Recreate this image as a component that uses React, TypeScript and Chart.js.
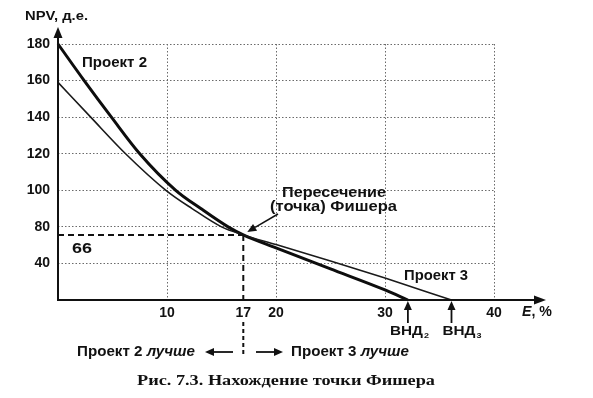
import React, { useEffect, useRef } from "react";
import { Chart, registerables } from "chart.js";

Chart.register(...registerables);

// ---- data ----
const eProject2 = [0, 2.4, 4.9, 7.5, 10.8, 13.1, 15.6, 17, 20, 25, 30, 32.1];
const npvProject2 = [180, 160, 140, 120, 100, 90, 80, 75.6, 68.5, 57, 45.5, 40];
const eProject3 = [0, 3.0, 6.2, 9.9, 12.3, 15.0, 17, 20, 25, 30, 36.1];
const npvProject3 = [159, 140, 120, 100, 90, 80, 75.6, 70.3, 61.3, 52, 40];

const xTickValues = [10, 17, 20, 30, 40];
const xTickLabels = ["10", "17", "20", "30", "40"];
const yTickValues = [60, 80, 100, 120, 140, 160, 180];
const yTickLabels = ["40", "80", "100", "120", "140", "160", "180"];

const fisherE = 17;
const fisherNPV = 75.6;
const fisherLabel = "66";
const irrProject2 = 32.1;
const irrProject3 = 36.1;
const yAxisMin = 40;

const SANS = '"Liberation Sans", Arial, sans-serif';
const SERIF = '"Liberation Serif", "Times New Roman", serif';

type Run = [string, string];

function fitRuns(ctx: CanvasRenderingContext2D, runs: Run[], left: number, right: number, cy: number) {
  let total = 0;
  for (const [t, f] of runs) {
    ctx.font = f;
    total += ctx.measureText(t).width;
  }
  const s = (right - left) / total;
  ctx.save();
  ctx.translate(left, cy);
  ctx.scale(s, 1);
  ctx.textAlign = "left";
  ctx.textBaseline = "middle";
  let x = 0;
  for (const [t, f] of runs) {
    ctx.font = f;
    ctx.fillText(t, x, 0);
    x += ctx.measureText(t).width;
  }
  ctx.restore();
}

function arrow(ctx: CanvasRenderingContext2D, x1: number, y1: number, x2: number, y2: number, w: number, headLen: number, headW: number) {
  const ang = Math.atan2(y2 - y1, x2 - x1);
  const bx = x2 - Math.cos(ang) * headLen;
  const by = y2 - Math.sin(ang) * headLen;
  ctx.save();
  ctx.lineWidth = w;
  ctx.setLineDash([]);
  ctx.beginPath();
  ctx.moveTo(x1, y1);
  ctx.lineTo(bx, by);
  ctx.stroke();
  ctx.beginPath();
  ctx.moveTo(x2, y2);
  ctx.lineTo(bx + Math.sin(ang) * headW, by - Math.cos(ang) * headW);
  ctx.lineTo(bx - Math.sin(ang) * headW, by + Math.cos(ang) * headW);
  ctx.closePath();
  ctx.fill();
  ctx.restore();
}

const annotations = {
  id: "annotations",
  afterDraw(chart: any) {
    const ctx: CanvasRenderingContext2D = chart.ctx;
    const xs = chart.scales.x;
    const ys = chart.scales.y;
    const X = (v: number) => xs.getPixelForValue(v);
    const Y = (v: number) => ys.getPixelForValue(v);
    const x0 = X(0);
    const y0 = Y(yAxisMin);
    ctx.save();
    ctx.strokeStyle = "#111";
    ctx.fillStyle = "#111";

    // axes with arrows
    arrow(ctx, x0, y0 + 1, x0, 27, 2, 11, 4.5);
    arrow(ctx, x0 - 1, y0, 546, y0, 2, 12, 4.5);

    // Fisher dashed lines
    const fx = X(fisherE);
    const fy = Y(fisherNPV);
    ctx.lineWidth = 2;
    ctx.setLineDash([6, 4]);
    ctx.beginPath();
    ctx.moveTo(x0, fy);
    ctx.lineTo(fx, fy);
    ctx.moveTo(fx, fy);
    ctx.lineTo(fx, y0);
    ctx.stroke();
    ctx.setLineDash([4, 3]);
    ctx.beginPath();
    ctx.moveTo(fx, 322);
    ctx.lineTo(fx, 356);
    ctx.stroke();
    ctx.setLineDash([]);

    // Fisher pointer
    arrow(ctx, 278, 214, fx + 4, fy - 3, 1.5, 9, 4);

    // IRR arrows
    arrow(ctx, X(irrProject2), 323, X(irrProject2), y0 + 1, 1.8, 9, 4);
    arrow(ctx, X(irrProject3), 323, X(irrProject3), y0 + 1, 1.8, 9, 4);

    // labels
    const b13 = `bold 13px ${SANS}`;
    const b14 = `bold 14px ${SANS}`;
    const bi14 = `italic bold 14px ${SANS}`;
    fitRuns(ctx, [["NPV, д.е.", b13]], 25, 88, 16);
    fitRuns(ctx, [["Проект 2", b14]], 82, 147, 63);
    fitRuns(ctx, [["Пересечение", b14]], 282, 386, 193);
    fitRuns(ctx, [["(точка) Фишера", b14]], 270, 397, 207);
    fitRuns(ctx, [[fisherLabel, b14]], 72, 92, 249);
    fitRuns(ctx, [["Проект 3", `bold 14px ${SANS}`]], 404, 468, 276);
    fitRuns(ctx, [["E", bi14], [", %", b14]], 522, 552, 312);

    // ВНД labels with subscripts
    const sub = `bold 8px ${SANS}`;
    fitRuns(ctx, [["ВНД", b13]], X(irrProject2) - 18, X(irrProject2) + 15, 331);
    fitRuns(ctx, [["2", sub]], X(irrProject2) + 16, X(irrProject2) + 21, 336);
    fitRuns(ctx, [["ВНД", b13]], X(irrProject3) - 9, X(irrProject3) + 24, 331);
    fitRuns(ctx, [["3", sub]], X(irrProject3) + 25, X(irrProject3) + 30, 336);

    // which project is better
    fitRuns(ctx, [["Проект 2 ", b14], ["лучше", bi14]], 77, 195, 352);
    arrow(ctx, 233, 352, 205, 352, 1.8, 9, 4);
    arrow(ctx, 256, 352, 283, 352, 1.8, 9, 4);
    fitRuns(ctx, [["Проект 3 ", b14], ["лучше", bi14]], 291, 409, 352);

    // caption
    fitRuns(ctx, [["Рис. 7.3. Нахождение точки Фишера", `bold 15px ${SERIF}`]], 137, 435, 381);

    ctx.restore();
  },
};

export default function App() {
  const ref = useRef<HTMLCanvasElement | null>(null);

  useEffect(() => {
    if (!ref.current) return;
    const gridColor = (c: any) =>
      c.tick && c.tick.value === fisherE ? "rgba(0,0,0,0)" : "#6a6a6a";
    const chart = new Chart(ref.current, {
      type: "line",
      data: {
        datasets: [
          {
            label: "Проект 3",
            data: eProject3.map((x, i) => ({ x, y: npvProject3[i] })),
            borderColor: "#1a1a1a",
            borderWidth: 1.6,
            pointRadius: 0,
            cubicInterpolationMode: "monotone",
            clip: false as any,
          },
          {
            label: "Проект 2",
            data: eProject2.map((x, i) => ({ x, y: npvProject2[i] })),
            borderColor: "#0d0d0d",
            borderWidth: 3,
            pointRadius: 0,
            cubicInterpolationMode: "monotone",
            clip: false as any,
          },
        ],
      },
      options: {
        animation: false,
        responsive: false,
        devicePixelRatio: 1,
        layout: { padding: { left: 0, right: 99, top: 44, bottom: 0 } },
        plugins: { legend: { display: false }, tooltip: { enabled: false } },
        scales: {
          x: {
            type: "linear",
            min: 0,
            max: 40,
            afterFit: (s: any) => {
              s.height = 98;
            },
            afterBuildTicks: (s: any) => {
              s.ticks = xTickValues.map((v) => ({ value: v }));
            },
            ticks: {
              padding: 5,
              color: "#111",
              font: { family: SANS, weight: "bold", size: 14 },
              maxRotation: 0,
              autoSkip: false,
              callback: (v: any) => xTickLabels[xTickValues.indexOf(Number(v))] ?? "",
            },
            grid: { color: gridColor, lineWidth: 1, drawTicks: false },
            border: { display: false, dash: [1.5, 2] },
          },
          y: {
            type: "linear",
            min: yAxisMin,
            max: 180,
            afterFit: (s: any) => {
              s.width = 58;
            },
            afterBuildTicks: (s: any) => {
              s.ticks = yTickValues.map((v) => ({ value: v }));
            },
            ticks: {
              padding: 8,
              color: "#111",
              font: { family: SANS, weight: "bold", size: 14 },
              autoSkip: false,
              callback: (v: any) => yTickLabels[yTickValues.indexOf(Number(v))] ?? "",
            },
            grid: { color: "#6a6a6a", lineWidth: 1, drawTicks: false },
            border: { display: false, dash: [1.5, 2] },
          },
        },
      } as any,
      plugins: [annotations],
    });
    return () => chart.destroy();
  }, []);

  return (
    <div style={{ position: "fixed", left: 0, top: 0, width: 593, height: 398, background: "#fff" }}>
      <canvas ref={ref} width={593} height={398} style={{ display: "block" }} />
    </div>
  );
}
